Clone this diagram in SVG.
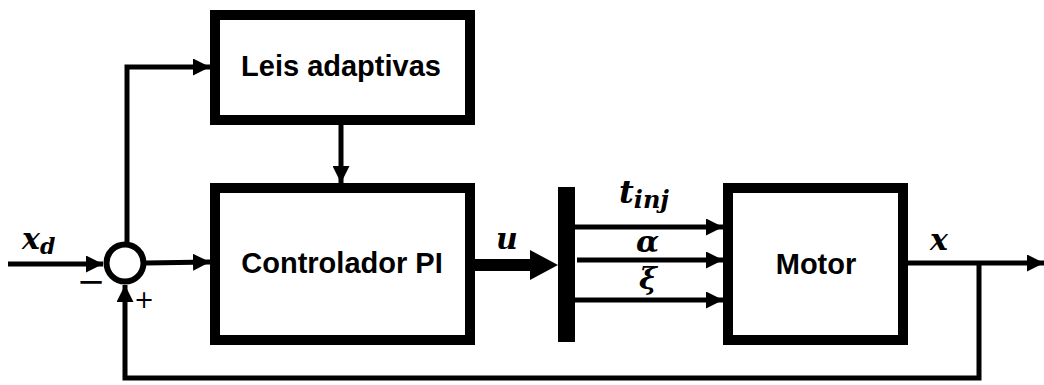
<svg xmlns="http://www.w3.org/2000/svg" width="1044" height="385" viewBox="0 0 1044 385">
  <style>
    .block { fill: #fff; stroke: #000; stroke-width: 10; }
    .lbl { font-family: "Liberation Sans", Arial, sans-serif; font-weight: bold; font-size: 29px; fill: #000; text-anchor: middle; }
    .math { font-family: "DejaVu Serif", "Liberation Serif", serif; font-weight: bold; font-style: italic; fill: #000; }
    .sign { font-family: "DejaVu Sans", "Liberation Sans", sans-serif; fill: #000; text-anchor: middle; }
    .wire { fill: none; stroke: #000; stroke-width: 5; }
  </style>
  <defs>
    <marker id="arr" viewBox="0 0 10 10" refX="10" refY="5" markerWidth="3.4" markerHeight="3.4" orient="auto" markerUnits="strokeWidth">
      <path d="M0,0 L10,5 L0,10 z" fill="#000"/>
    </marker>
  </defs>

  <g id="connectors">
    <!-- reference input into the summing junction -->
    <line class="wire" x1="8" y1="264" x2="103" y2="264" marker-end="url(#arr)"/>
    <!-- junction to PI controller -->
    <line class="wire" x1="146" y1="263" x2="210" y2="262" marker-end="url(#arr)"/>
    <!-- error branch to adaptation laws -->
    <polyline class="wire" points="127,242 127,67 210,67" marker-end="url(#arr)"/>
    <!-- adaptation laws to controller -->
    <line class="wire" x1="341" y1="125" x2="341" y2="183" stroke-width="6" marker-end="url(#arr)"/>
    <!-- control signal u (thick) -->
    <line x1="475" y1="265" x2="532" y2="265" stroke="#000" stroke-width="12"/>
    <path d="M530,250 L558,265 L530,280 z" fill="#000"/>
    <!-- demux outputs to motor -->
    <line class="wire" x1="575" y1="227" x2="723" y2="227" marker-end="url(#arr)"/>
    <line class="wire" x1="577" y1="260" x2="723" y2="260" marker-end="url(#arr)"/>
    <line class="wire" x1="575" y1="300" x2="723" y2="300" marker-end="url(#arr)"/>
    <!-- plant output -->
    <line class="wire" x1="908" y1="263" x2="1044" y2="263" marker-end="url(#arr)"/>
    <!-- feedback path -->
    <polyline class="wire" points="979,263 979,378 125,378 125,285" marker-end="url(#arr)"/>
  </g>

  <g id="sum">
    <circle cx="125" cy="263" r="18.5" fill="#fff" stroke="#000" stroke-width="6"/>
    <text class="sign" x="91" y="293" font-size="34">−</text>
    <text class="sign" x="144" y="308" font-size="24">+</text>
  </g>

  <g id="adaptive-laws">
    <rect class="block" x="215" y="15" width="255" height="105"/>
    <text class="lbl" x="341" y="76">Leis adaptivas</text>
  </g>

  <g id="pi-controller">
    <rect class="block" x="215" y="188" width="255" height="152"/>
    <text class="lbl" x="342" y="273">Controlador PI</text>
  </g>

  <g id="demux">
    <rect x="558" y="187" width="17" height="155" fill="#000"/>
  </g>

  <g id="motor">
    <rect class="block" x="728" y="188" width="175" height="152"/>
    <text class="lbl" x="816" y="274">Motor</text>
  </g>

  <g id="labels">
    <text class="math" x="22" y="249" font-size="30">x<tspan font-size="22" dy="5">d</tspan></text>
    <text class="math" x="496" y="249" font-size="30">u</text>
    <text class="math" x="619" y="203" font-size="32">t<tspan font-size="24" dy="5">inj</tspan></text>
    <text class="math" x="636" y="252" font-size="30">α</text>
    <text class="math" x="639" y="289" font-size="30">ξ</text>
    <text class="math" x="930" y="250" font-size="30">x</text>
  </g>
</svg>
